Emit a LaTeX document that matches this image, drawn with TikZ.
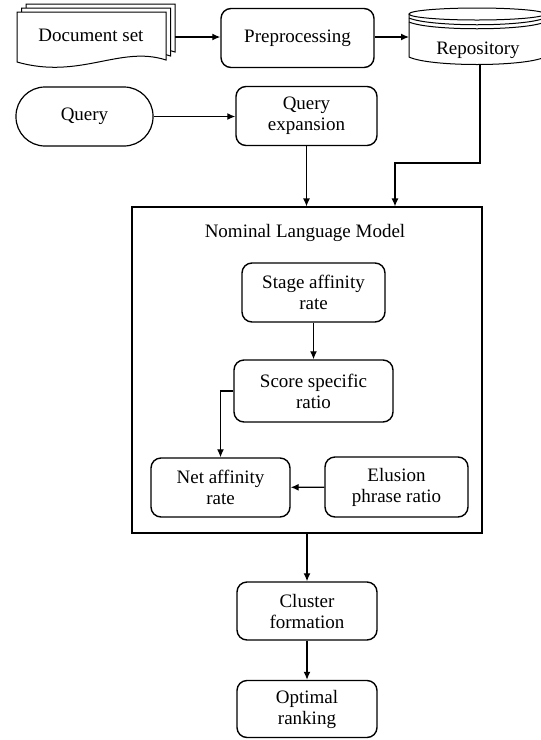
\documentclass[tikz,border=0pt]{standalone}
\usepackage{fontspec}
\setmainfont{Liberation Serif}
\usetikzlibrary{arrows.meta}
\tikzstyle{process-node}=[draw,line width=1.4pt,rounded corners=10pt,align=center,fill=white,minimum height=59pt,font=\fontsize{19}{21}\selectfont]
\tikzstyle{terminal-node}=[draw,line width=1.2pt,rounded corners=29pt,minimum width=137pt,minimum height=59pt,font=\fontsize{19}{21}\selectfont]
\tikzstyle{model-node}=[draw,line width=1.2pt,minimum width=350pt,minimum height=326pt]
\tikzstyle{label-node}=[font=\fontsize{19}{21}\selectfont]
\tikzstyle{flow-line}=[-{Latex[length=8pt,width=7pt]},line width=1.3pt]

\begin{document}
\begin{tikzpicture}[x=1pt,y=-1pt]
        \useasboundingbox (0,0) rectangle (541,740);
        \begin{scope}
            % document set (stacked sheets)
            \foreach \s in {2,1,0}
                \draw[line width=1pt,fill=white,shift={(\s*4.5,-\s*4)}] (17,12) -- (166,12) -- (166,60) .. controls (120,45) and (80,80) .. (17,62) -- cycle;
            \node[label-node] at (91,35) (docset) {Document set};
            \coordinate (docset-e) at (175,37);

            % repository
            \draw[line width=1pt,fill=white] (409,14) -- (409,57) .. controls (430,67) and (524,67) .. (545,57) -- (545,14);
            \draw[line width=1pt,fill=white] (477,14) ellipse [x radius=68,y radius=6];
            \draw[line width=1pt] (409,18) .. controls (430,27) and (524,27) .. (545,18);
            \draw[line width=1pt] (409,22) .. controls (430,31) and (524,31) .. (545,22);
            \node[label-node] at (478,50) (repo) {Repository};
            \coordinate (repo-w) at (409,37);
            \coordinate (repo-s) at (480,64);
            \coordinate (repo-turn) at (395,163);

            \node[process-node,minimum width=153pt] at (297.5,38) (preproc) {Preprocessing};
            \node[terminal-node] at (84.5,116.5) (query) {Query};
            \node[process-node,minimum width=141pt] at (306.5,116) (qexp) {Query\\expansion};

            \node[model-node] at (307,370) (nlm) {};
            \node[label-node] at (305,233) (nlm-title) {Nominal Language Model};
            \node[process-node,minimum width=143pt] at (313.5,292.5) (stage) {Stage affinity\\rate};
            \node[process-node,minimum width=159pt,minimum height=62pt] at (313.5,391) (score) {Score specific\\ratio};
            \node[process-node,minimum width=139pt] at (220.5,487.5) (netaff) {Net affinity\\rate};
            \node[process-node,minimum width=143pt,minimum height=60pt] at (396.5,487) (elusion) {Elusion\\phrase ratio};

            \node[process-node,minimum width=140pt,minimum height=58pt] at (307,611) (cluster) {Cluster\\formation};
            \node[process-node,minimum width=140pt,minimum height=57pt] at (307,709) (ranking) {Optimal\\ranking};

            \draw[flow-line] (docset-e) -- (docset-e -| preproc.west);
            \draw[flow-line] (preproc.east |- repo-w) -- (repo-w);
            \draw[flow-line] (repo-s) |- (repo-turn) -- (repo-turn |- nlm.north);
            \draw[flow-line] (query.east) -- (query.east -| qexp.west);
            \draw[flow-line] (qexp) -- (qexp |- nlm.north);
            \draw[flow-line] (stage) -- (score);
            \draw[flow-line] (score.west) -| (netaff.north);
            \draw[flow-line] (elusion) -- (netaff);
            \draw[flow-line] (nlm) -- (cluster);
            \draw[flow-line] (cluster) -- (ranking);
        \end{scope}
\end{tikzpicture}
\end{document}
